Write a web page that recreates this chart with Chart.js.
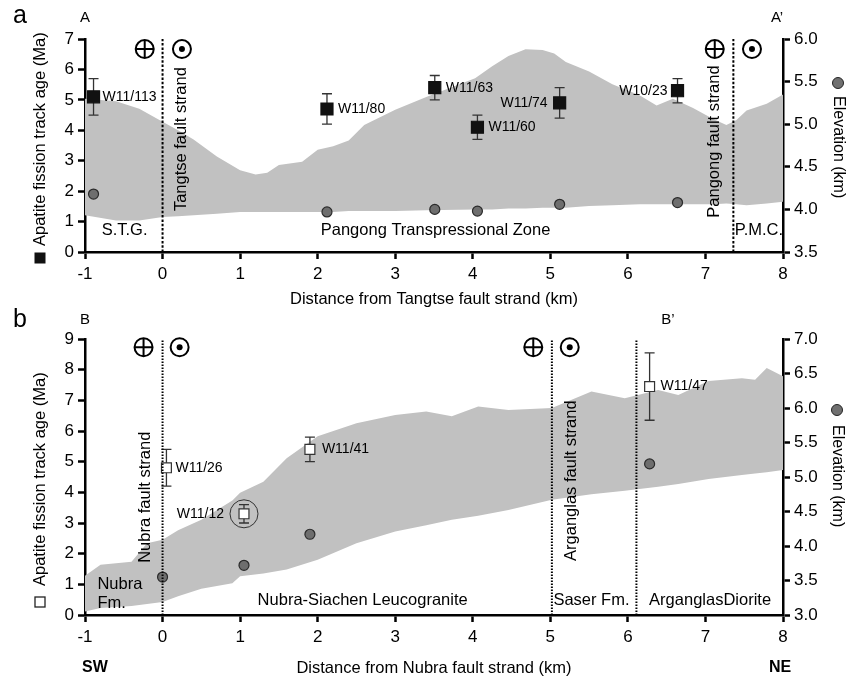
<!DOCTYPE html>
<html>
<head>
<meta charset="utf-8">
<script src="https://cdn.jsdelivr.net/npm/chart.js@4/dist/chart.umd.min.js"></script>
<style>
  body { margin: 0; background: #fff; }
  #wrap { position: relative; width: 850px; height: 681px; }
  canvas { position: absolute; left: 0; }
</style>
</head>
<body>
<div id="wrap">
  <canvas id="chartA" width="850" height="312" style="top:0"></canvas>
  <canvas id="chartB" width="850" height="381" style="top:300px"></canvas>
</div>
<script>
const FONT = '"Liberation Sans", Arial, sans-serif';

// ---- section a: Tangtse profile ----
const aBandKm   = [-1, -0.6, -0.3, 0, 0.2, 0.4, 0.7, 1.0, 1.2, 1.35, 1.5, 1.8, 2.0, 2.2, 2.4, 2.6, 3.0, 3.4, 4.03, 4.25, 4.46, 4.68, 4.9, 5.05, 5.2, 5.5, 5.8, 6.15, 6.37, 6.58, 6.84, 7.1, 7.27, 7.4, 7.53, 7.79, 8.0];
const aBandTop  = [5.30, 5.27, 5.18, 5.03, 4.93, 4.82, 4.62, 4.46, 4.41, 4.43, 4.52, 4.56, 4.70, 4.74, 4.81, 4.99, 5.17, 5.32, 5.54, 5.68, 5.80, 5.88, 5.87, 5.83, 5.73, 5.62, 5.47, 5.34, 5.22, 5.30, 5.19, 5.06, 4.99, 5.05, 5.16, 5.24, 5.35];
const aBandBase = [3.93, 3.87, 3.87, 3.91, 3.92, 3.93, 3.95, 3.97, 3.97, 3.97, 3.97, 3.97, 3.97, 3.97, 3.98, 3.98, 3.98, 3.99, 4.00, 4.00, 4.01, 4.01, 4.02, 4.02, 4.02, 4.04, 4.05, 4.06, 4.06, 4.06, 4.06, 4.06, 4.07, 4.06, 4.05, 4.07, 4.09];
const aSamples  = ['W11/113', 'W11/80', 'W11/63', 'W11/60', 'W11/74', 'W10/23'];
const aSampleKm = [-0.89, 2.12, 3.51, 4.06, 5.12, 6.64];
const aAge      = [5.1, 4.7, 5.4, 4.1, 4.9, 5.3];
const aAgeErr   = [0.6, 0.5, 0.4, 0.4, 0.5, 0.4];
const aElev     = [4.18, 3.97, 4.00, 3.98, 4.06, 4.08];
const aFaultKm  = [0, 7.36];

// ---- section b: Nubra profile ----
const bBandKm   = [-1, -0.8, -0.4, -0.2, 0, 0.2, 0.5, 0.9, 1.0, 1.3, 1.6, 2.0, 2.5, 3.0, 3.4, 3.73, 4.07, 4.46, 5.02, 5.53, 5.96, 6.39, 6.65, 7.04, 7.47, 7.64, 7.79, 8.0];
const bBandTop  = [3.57, 3.73, 3.77, 4.04, 4.09, 4.23, 4.38, 4.66, 4.77, 4.93, 5.27, 5.59, 5.78, 5.90, 5.95, 5.88, 6.02, 5.97, 6.00, 6.24, 6.14, 6.26, 6.19, 6.39, 6.43, 6.41, 6.58, 6.46];
const bBandBase = [3.05, 3.10, 3.13, 3.16, 3.19, 3.27, 3.38, 3.46, 3.56, 3.60, 3.66, 3.80, 4.04, 4.21, 4.30, 4.38, 4.44, 4.52, 4.67, 4.75, 4.80, 4.86, 4.90, 4.97, 5.03, 5.05, 5.07, 5.10];
const bSamples  = ['W11/26', 'W11/12', 'W11/41', 'W11/47'];
const bSampleKm = [0.05, 1.05, 1.90, 6.28];
const bAge      = [4.8, 3.3, 5.4, 7.45];
const bAgeErr   = [0.6, 0.3, 0.4, 1.1];
const bElevKm   = [0.0, 1.05, 1.90, 6.28];
const bElev     = [3.55, 3.72, 4.17, 5.19];
const bFaultKm  = [0, 5.02, 6.11];

function pts(xs, ys) {
  return xs.map((x, i) => ({ x: x, y: ys[i] }));
}

function axisX(h) {
  return {
    type: 'linear', min: -1, max: 8,
    ticks: { stepSize: 1, color: '#000', font: { family: FONT, size: 17 }, padding: 5 },
    grid: { drawOnChartArea: false, tickLength: 7, tickColor: '#000', tickWidth: 2.5 },
    border: { color: '#000', width: 2.5 },
    afterFit: s => { s.height = h; }
  };
}

function axisY(pos, min, max, step, dec, w) {
  return {
    type: 'linear', position: pos, min: min, max: max,
    ticks: {
      stepSize: step, color: '#000', font: { family: FONT, size: 17 }, padding: 4,
      callback: v => v.toFixed(dec)
    },
    grid: { drawOnChartArea: false, tickLength: 7, tickColor: '#000', tickWidth: 2.5 },
    border: { color: '#000', width: 2.5 },
    afterFit: s => { s.width = w; }
  };
}

function drawSense(ctx, x, y, plus) {
  ctx.save();
  ctx.strokeStyle = '#000';
  ctx.lineWidth = 2;
  ctx.beginPath();
  ctx.arc(x, y, 9, 0, Math.PI * 2);
  ctx.stroke();
  if (plus) {
    ctx.beginPath();
    ctx.moveTo(x - 9, y); ctx.lineTo(x + 9, y);
    ctx.moveTo(x, y - 9); ctx.lineTo(x, y + 9);
    ctx.stroke();
  } else {
    ctx.fillStyle = '#000';
    ctx.beginPath();
    ctx.arc(x, y, 3, 0, Math.PI * 2);
    ctx.fill();
  }
  ctx.restore();
}

function label(ctx, str, x, y, size, align, rot, bold) {
  ctx.save();
  ctx.translate(x, y);
  if (rot) ctx.rotate(rot);
  ctx.font = (bold ? 'bold ' : '') + size + 'px ' + FONT;
  ctx.fillStyle = '#000';
  ctx.textAlign = align || 'center';
  ctx.textBaseline = 'middle';
  ctx.fillText(str, 0, 0);
  ctx.restore();
}

// error bars go right after the grey band so the markers sit on top
function errorBars(km, age, err) {
  return {
    id: 'errbars',
    afterDatasetDraw(chart, args) {
      if (args.index !== 1) return;
      const ctx = chart.ctx, xs = chart.scales.x, ys = chart.scales.y;
      ctx.save();
      ctx.strokeStyle = '#333';
      ctx.lineWidth = 1.3;
      km.forEach((k, i) => {
        const px = xs.getPixelForValue(k);
        const t = ys.getPixelForValue(age[i] + err[i]);
        const b = ys.getPixelForValue(age[i] - err[i]);
        ctx.beginPath();
        ctx.moveTo(px, t); ctx.lineTo(px, b);
        ctx.moveTo(px - 5, t); ctx.lineTo(px + 5, t);
        ctx.moveTo(px - 5, b); ctx.lineTo(px + 5, b);
        ctx.stroke();
      });
      ctx.restore();
    }
  };
}

function annotate(notes) {
  return {
    id: 'notes',
    afterDatasetsDraw(chart) {
      const ctx = chart.ctx, xs = chart.scales.x, ys = chart.scales.y;
      const area = chart.chartArea;
      const X = v => xs.getPixelForValue(v), Y = v => ys.getPixelForValue(v);

      // fault strands
      ctx.save();
      ctx.strokeStyle = '#000';
      ctx.lineWidth = 2;
      ctx.setLineDash(notes.dash);
      notes.faults.forEach(k => {
        ctx.beginPath();
        ctx.moveTo(X(k), area.bottom);
        ctx.lineTo(X(k), area.top);
        ctx.stroke();
      });
      ctx.restore();

      notes.senses.forEach(s => drawSense(ctx, X(s.x), Y(s.y), s.plus));
      notes.zones.forEach(z => label(ctx, z.t, X(z.x), Y(z.y), 16.5, z.align || 'center'));
      notes.strands.forEach(z => label(ctx, z.t, X(z.x), Y(z.y), 16.5, 'center', -Math.PI / 2));

      notes.km.forEach((k, i) => {
        const off = notes.offs[i];
        label(ctx, notes.names[i], X(k) + off, Y(notes.age[i]), 14, off > 0 ? 'left' : 'right');
      });

      if (notes.ring !== undefined) {
        const i = notes.ring;
        ctx.save();
        ctx.strokeStyle = '#333';
        ctx.lineWidth = 1;
        ctx.beginPath();
        ctx.arc(X(notes.km[i]), Y(notes.age[i]), 14, 0, Math.PI * 2);
        ctx.stroke();
        ctx.restore();
      }

      notes.free.forEach(f => label(ctx, f.t, f.x, f.y, f.size, 'center', 0, f.bold));

      // axis titles with their marker symbols
      const lt = notes.leftTitle;
      if (notes.filledSquare) {
        ctx.fillStyle = '#111';
        ctx.fillRect(lt.x - 5.5, lt.m - 5.5, 11, 11);
      } else {
        ctx.save();
        ctx.strokeStyle = '#222';
        ctx.lineWidth = 1.3;
        ctx.strokeRect(lt.x - 5, lt.m - 5, 10, 10);
        ctx.restore();
      }
      label(ctx, 'Apatite fission track age (Ma)', lt.x, lt.y, 16.5, 'left', -Math.PI / 2);

      const rt = notes.rightTitle;
      ctx.save();
      ctx.fillStyle = '#707070';
      ctx.strokeStyle = '#222';
      ctx.lineWidth = 1;
      ctx.beginPath();
      ctx.arc(rt.x, rt.m, 5.5, 0, Math.PI * 2);
      ctx.fill();
      ctx.stroke();
      ctx.restore();
      label(ctx, 'Elevation (km)', rt.x, rt.y, 16, 'left', Math.PI / 2);

      label(ctx, notes.xTitle, (area.left + area.right) / 2, notes.xTitleY, 16.5, 'center');
    }
  };
}

function makeChart(id, d) {
  return new Chart(document.getElementById(id), {
    type: 'line',
    data: {
      datasets: [
        { data: pts(d.bandKm, d.bandTop), yAxisID: 'y2', borderWidth: 0, pointRadius: 0, fill: false, order: 3 },
        { data: pts(d.bandKm, d.bandBase), yAxisID: 'y2', borderWidth: 0, pointRadius: 0,
          fill: '-1', backgroundColor: '#c1c1c1', order: 2 },
        { data: pts(d.elevKm, d.elev), yAxisID: 'y2', showLine: false, pointStyle: 'circle',
          pointRadius: 5, pointBackgroundColor: '#6e6e6e', pointBorderColor: '#2a2a2a', pointBorderWidth: 1.2, order: 1 },
        { data: pts(d.km, d.age), yAxisID: 'y', showLine: false, pointStyle: 'rect',
          pointRadius: d.sq, pointBackgroundColor: d.sqFill, pointBorderColor: d.sqLine, pointBorderWidth: 1.2, order: 0 }
      ]
    },
    options: {
      responsive: false,
      animation: false,
      events: [],
      layout: { padding: { top: 39, left: 0, right: 0, bottom: 0 } },
      plugins: { legend: { display: false }, tooltip: { enabled: false } },
      scales: {
        x: axisX(d.xh),
        y: axisY('left', 0, d.ymax, 1, 0, 85),
        y2: axisY('right', d.emin, d.emax, 0.5, 1, 67)
      }
    },
    plugins: [errorBars(d.km, d.age, d.err), annotate(d.notes)]
  });
}

makeChart('chartA', {
  bandKm: aBandKm, bandTop: aBandTop, bandBase: aBandBase,
  elevKm: aSampleKm, elev: aElev,
  km: aSampleKm, age: aAge, err: aAgeErr,
  sq: 8.5, sqFill: '#111', sqLine: '#111',
  xh: 60, ymax: 7, emin: 3.5, emax: 6.0,
  notes: {
    dash: [2.5, 1.8],
    faults: aFaultKm,
    senses: [{ x: -0.23, y: 6.67, plus: true }, { x: 0.25, y: 6.67, plus: false },
             { x: 7.12, y: 6.67, plus: true }, { x: 7.6, y: 6.67, plus: false }],
    zones: [{ t: 'S.T.G.', x: -0.49, y: 0.71 }, { t: 'Pangong Transpressional Zone', x: 3.52, y: 0.71 },
            { t: 'P.M.C.', x: 7.69, y: 0.71 }],
    strands: [{ t: 'Tangtse fault strand', x: 0.25, y: 3.71 }, { t: 'Pangong fault strand', x: 7.12, y: 3.63 }],
    km: aSampleKm, age: aAge, names: aSamples,
    offs: [9, 11, 11, 11, -12, -10],
    free: [{ t: 'a', x: 20, y: 16, size: 25 }, { t: 'A', x: 85, y: 18, size: 15 }, { t: 'A\u2019', x: 777, y: 18, size: 15 }],
    filledSquare: true,
    leftTitle: { x: 40, y: 246, m: 258 },
    rightTitle: { x: 838, y: 96, m: 83 },
    xTitle: 'Distance from Tangtse fault strand (km)', xTitleY: 299
  }
});

makeChart('chartB', {
  bandKm: bBandKm, bandTop: bBandTop, bandBase: bBandBase,
  elevKm: bElevKm, elev: bElev,
  km: bSampleKm, age: bAge, err: bAgeErr,
  sq: 7, sqFill: '#fff', sqLine: '#333',
  xh: 66, ymax: 9, emin: 3.0, emax: 7.0,
  notes: {
    dash: [1.5, 1.5],
    faults: bFaultKm,
    senses: [{ x: -0.245, y: 8.73, plus: true }, { x: 0.22, y: 8.73, plus: false },
             { x: 4.78, y: 8.73, plus: true }, { x: 5.25, y: 8.73, plus: false }],
    zones: [{ t: 'Nubra', x: -0.84, y: 0.98, align: 'left' }, { t: 'Fm.', x: -0.84, y: 0.38, align: 'left' },
            { t: 'Nubra-Siachen Leucogranite', x: 2.58, y: 0.49 },
            { t: 'Saser Fm.', x: 5.53, y: 0.49 }, { t: 'ArganglasDiorite', x: 7.06, y: 0.49 }],
    strands: [{ t: 'Nubra fault strand', x: -0.215, y: 3.84 }, { t: 'Arganglas fault strand', x: 5.27, y: 4.38 }],
    km: bSampleKm, age: bAge, names: bSamples,
    offs: [9, -20, 12, 11],
    ring: 1,
    free: [{ t: 'b', x: 20, y: 20, size: 25 }, { t: 'B', x: 85, y: 20, size: 15 }, { t: 'B\u2019', x: 668, y: 20, size: 15 },
           { t: 'SW', x: 95, y: 368, size: 16, bold: true }, { t: 'NE', x: 780, y: 368, size: 16, bold: true }],
    filledSquare: false,
    leftTitle: { x: 40, y: 286, m: 302 },
    rightTitle: { x: 837, y: 125, m: 110 },
    xTitle: 'Distance from Nubra fault strand (km)', xTitleY: 368
  }
});
</script>
</body>
</html>
